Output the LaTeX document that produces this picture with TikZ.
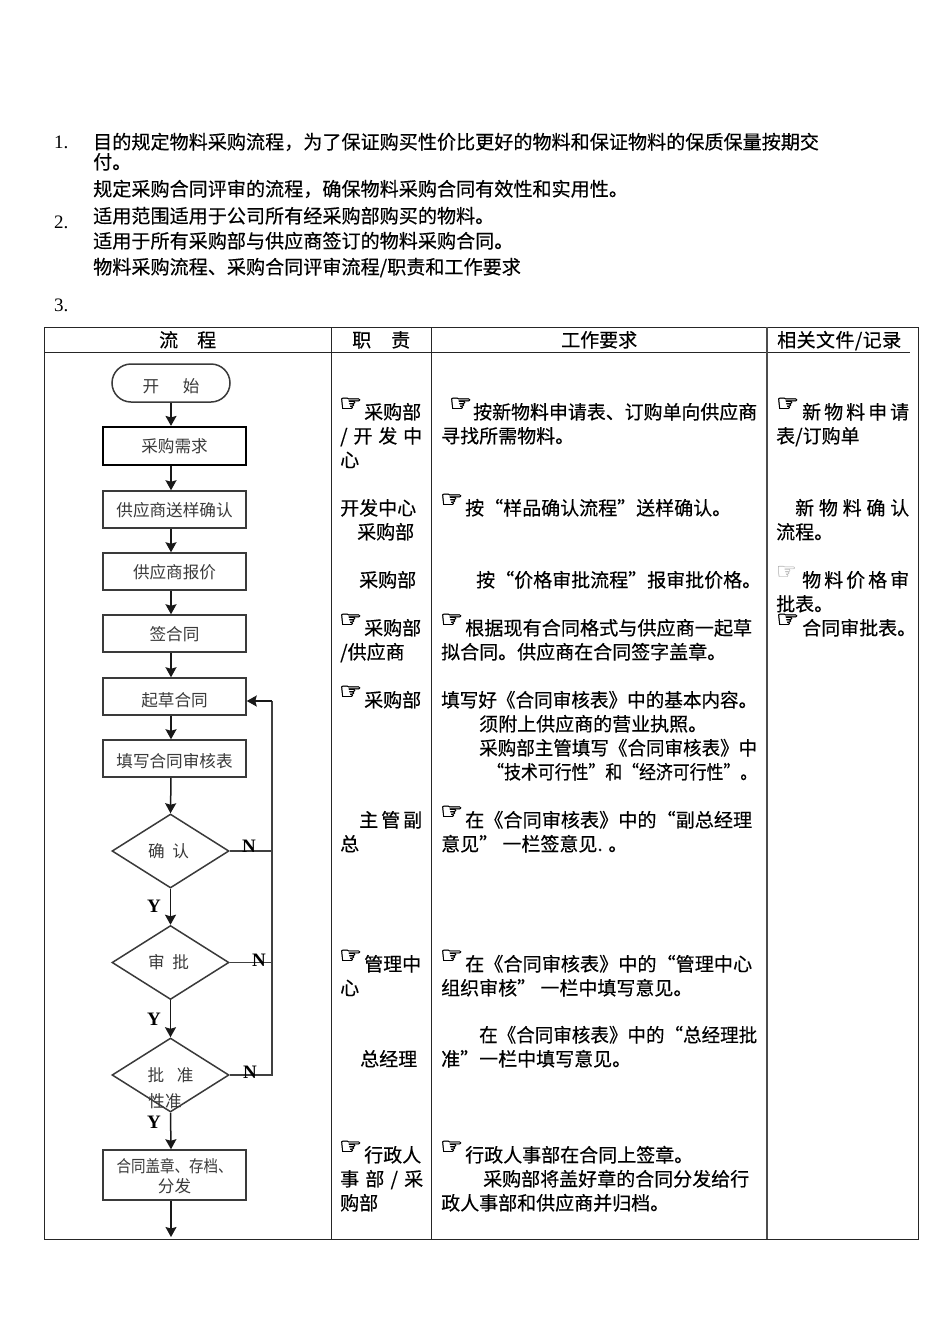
\documentclass[tikz,border=0pt]{standalone}
\usepackage{fontspec}
\usepackage{graphicx}
\setmainfont{Noto Sans CJK SC}
\newfontfamily\bodyf[FakeBold=0.35]{Noto Sans CJK SC}
\newfontfamily\handf[FakeBold=2,FakeStretch=1.12]{DejaVu Sans}
\newfontfamily\latf{Liberation Serif}
\usetikzlibrary{arrows.meta,shapes.geometric}
\newcounter{tn}
\newcommand{\tx}[3]{\stepcounter{tn}\node[txt] (t\arabic{tn}) at (#1,#2+7) {#3};}
\newcommand{\tw}[4]{\stepcounter{tn}\node[txt] (t\arabic{tn}) at (#1,#2+7) {\makebox[#3pt][s]{#4}};}
\newcommand{\tq}[4]{\stepcounter{tn}\node[txt] (t\arabic{tn}) at (#1,#2+7) {\resizebox{#3pt}{\height}{#4}};}
\newcommand{\topl}[3]{\stepcounter{tn}\node[txt,font=\bodyf\fontsize{19.1}{22}\selectfont] (t\arabic{tn}) at (#1,#2+7) {#3};}
\newcommand{\hand}[2]{\stepcounter{tn}\node[txt,font=\handf\fontsize{23}{26}\selectfont] (t\arabic{tn}) at (#1,#2+8) {☞};}
\newcommand{\handg}[2]{\stepcounter{tn}\node[txt,text=black!45,font=\fontsize{23}{26}\selectfont] (t\arabic{tn}) at (#1,#2+8) {\fontspec{DejaVu Sans}☞};}
\newcommand{\num}[3]{\stepcounter{tn}\node[txt,font=\latf\fontsize{19}{22}\selectfont] (t\arabic{tn}) at (#1,#2+6) {#3};}
\newcommand{\yn}[3]{\stepcounter{tn}\node[font=\latf\bfseries\fontsize{19}{22}\selectfont,inner sep=0pt] (t\arabic{tn}) at (#1,#2) {#3};}
\definecolor{ink}{HTML}{3A3A3A}
\tikzset{
  txt/.style={anchor=base west,inner sep=0pt,font=\bodyf\fontsize{19}{23}\selectfont,text=black},
  tline/.style={line width=0.9pt,draw=black!85},
  fl/.style={draw=ink,line width=1.5pt,fill=white,text=ink,inner sep=0pt,font=\fontsize{16.6}{20}\selectfont},
  pbox/.style={fl,rectangle,minimum width=143pt,text height=14.6pt,text depth=1.5pt},
  pdia/.style={fl,diamond,minimum width=117pt,minimum height=74pt,aspect=1.58,draw=ink},
  pterm/.style={fl,rectangle,rounded corners=19pt,minimum width=118pt,minimum height=38pt,text height=19.6pt,text depth=1pt},
  arr/.style={draw=black!90,line width=1.5pt,-{Stealth[length=10pt,width=11pt,inset=1.5pt]}},
  lp/.style={draw=black!75,line width=1.5pt},
}
\begin{document}
\begin{tikzpicture}[x=1pt,y=-1pt]
\useasboundingbox[fill=white] (0,0) rectangle (950,1344);
% top text
\num{54}{142}{1.}
\num{54}{222}{2.}
\num{54}{305}{3.}
\topl{93}{142}{目的规定物料采购流程，为了保证购买性价比更好的物料和保证物料的保质保量按期交}
\topl{93}{162}{付。}
\topl{93}{189}{规定采购合同评审的流程，确保物料采购合同有效性和实用性。}
\topl{93}{216}{适用范围适用于公司所有经采购部购买的物料。}
\topl{93}{241}{适用于所有采购部与供应商签订的物料采购合同。}
\topl{93}{267}{物料采购流程、采购合同评审流程/职责和工作要求}
% table
\draw[tline] (44,327) rectangle (918,1239);
\draw[tline] (44,352) -- (910,352);
\draw[tline] (331,327) -- (331,1239);
\draw[tline] (431.5,327) -- (431.5,1239);
\draw[tline,draw=black!70,line width=1.5pt] (767,327) -- (767,1239);
% header
\tx{159}{340}{\makebox[57pt][s]{流\hfil 程}}
\tx{352}{340}{\makebox[58pt][s]{职\hfil 责}}
\tx{561}{340}{工作要求}
\tw{777}{340}{124}{相\hfil 关\hfil 文\hfil 件\hfil /\hfil 记\hfil 录}
% column 2
\hand{339}{403}\tx{364}{412}{采购部}
\tw{340}{436}{82}{/\hfil 开\hfil 发\hfil 中}
\tx{340}{460}{心}
\tx{340}{508}{开发中心}
\tx{357}{532}{采购部}
\tx{359}{580}{采购部}
\hand{339}{619}\tx{364}{628}{采购部}
\tx{340}{652}{/供应商}
\hand{339}{691}\tx{364}{700}{采购部}
\tw{359}{820}{63}{主\hfil 管\hfil 副}
\tx{340}{844}{总}
\hand{339}{955}\tx{364}{964}{管理中}
\tx{340}{988}{心}
\tx{360}{1059}{总经理}
\hand{339}{1146}\tx{364}{1155}{行政人}
\tw{340}{1179}{83}{事\hfil 部\hfil /\hfil 采}
\tx{340}{1203}{购部}
% column 3
\hand{449}{403}\tq{473}{412}{284}{按新物料申请表、订购单向供应商}
\tx{441}{436}{寻找所需物料。}
\hand{440}{499}\tx{465}{508}{按“样品确认流程”送样确认。}
\tx{476}{580}{按“价格审批流程”报审批价格。}
\hand{440}{619}\tq{465}{628}{287}{根据现有合同格式与供应商一起草}
\tx{441}{652}{拟合同。供应商在合同签字盖章。}
\tq{441}{700}{316}{填写好《合同审核表》中的基本内容。}
\tx{479}{724}{须附上供应商的营业执照。}
\tq{479}{748}{278}{采购部主管填写《合同审核表》中}
\tq{487}{772}{270}{“技术可行性”和“经济可行性”。}
\hand{440}{811}\tq{465}{820}{287}{在《合同审核表》中的“副总经理}
\tx{441}{844}{意见” 一栏签意见. 。}
\hand{440}{955}\tq{465}{964}{287}{在《合同审核表》中的“管理中心}
\tx{441}{988}{组织审核” 一栏中填写意见。}
\tq{479}{1035}{278}{在《合同审核表》中的“总经理批}
\tx{441}{1059}{准”一栏中填写意见。}
\hand{440}{1146}\tx{465}{1155}{行政人事部在合同上签章。}
\tx{483}{1179}{采购部将盖好章的合同分发给行}
\tx{441}{1203}{政人事部和供应商并归档。}
% column 4
\hand{776}{403}\tw{802}{412}{107}{新\hfil 物\hfil 料\hfil 申\hfil 请}
\tx{776}{436}{表/订购单}
\tw{795}{508}{114}{新\hfil 物\hfil 料\hfil 确\hfil 认}
\tx{776}{532}{流程。}
\handg{776}{571}\tw{802}{580}{107}{物\hfil 料\hfil 价\hfil 格\hfil 审}
\tx{776}{604}{批表。}
\hand{776}{619}\tx{802}{628}{合同审批表。}
% flow
\coordinate (spine) at (171,0);
\coordinate (c0) at (272,701);
\node[pterm] (n1) at (171,383) {\makebox[57pt][s]{开\hfil 始}};
\node[pbox,minimum height=38pt,line width=2.2pt,draw=black] (n2) at (174.5,446) {采购需求};
\node[pbox,minimum height=37pt] (n3) at (174.5,509.5) {供应商送样确认};
\node[pbox,minimum height=37pt] (n4) at (174.5,571.5) {供应商报价};
\node[pbox,minimum height=37pt] (n5) at (174.5,633.5) {签合同};
\node[pbox,minimum height=37pt,text height=21pt] (n6) at (174.5,696.5) {起草合同};
\node[pbox,minimum height=37pt,text height=19pt] (n7) at (174.5,758.5) {填写合同审核表};
\node[pdia] (d1) at (170.5,851) {\makebox[41pt][s]{确\hfil 认}\kern4pt};
\node[pdia] (d2) at (170.5,962.5) {\makebox[41pt][s]{审\hfil 批}\kern4pt};
\node[pdia] (d3) at (170.5,1075) {\makebox[46pt][s]{批\hfil 准}};
\node[fl,draw=none,fill=none] (d3t) at (165,1101) {性准};
\node[pbox,minimum height=50pt,align=center,text height=,text depth=] (n8) at (174.5,1175) {\rule{0pt}{17pt}\resizebox{116pt}{\height}{合同盖章、存档、}\\分发};
\coordinate (endp) at (171,1237);
\draw[arr] (n1.south) -- (spine |- n2.north);
\draw[arr] (spine |- n2.south) -- (spine |- n3.north);
\draw[arr] (spine |- n3.south) -- (spine |- n4.north);
\draw[arr] (spine |- n4.south) -- (spine |- n5.north);
\draw[arr] (spine |- n5.south) -- (spine |- n6.north);
\draw[arr] (spine |- n6.south) -- (spine |- n7.north);
\draw[arr] (spine |- n7.south) -- (d1.north);
\draw[arr] (d1.south) -- (d2.north);
\draw[arr] (d2.south) -- (d3.north);
\draw[arr] (d3.south) -- (spine |- n8.north);
\draw[arr] (spine |- n8.south) -- (endp);
\draw[lp] (d1.east) -- (d1.east -| c0);
\draw[lp] (d2.east) -- (d2.east -| c0);
\draw[lp] (d3.east) -| (c0);
\draw[arr] (c0) -- (c0 -| n6.east);
\yn{249}{846}{N}
\yn{259}{960}{N}
\yn{250}{1072}{N}
\yn{154}{906}{Y}
\yn{154}{1019}{Y}
\yn{154}{1122}{Y}
\end{tikzpicture}
\end{document}
